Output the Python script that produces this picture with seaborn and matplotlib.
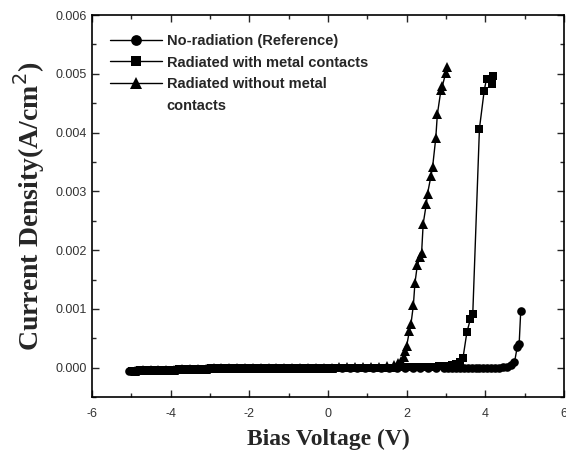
import matplotlib
matplotlib.use('Agg')
import matplotlib.pyplot as plt
from matplotlib.ticker import MultipleLocator, FormatStrFormatter
from matplotlib.lines import Line2D
import pandas as pd
import seaborn as sns

# bias voltage (V) and current density (mA/cm2)
ref_v = [-5.05, -4.85, -4.65, -4.45, -4.25, -4.05, -3.85, -3.65, -3.45, -3.25, -3.05, -2.85,
         -2.65, -2.45, -2.25, -2.05, -1.85, -1.65, -1.45, -1.25, -1.05, -0.85, -0.65, -0.45,
         -0.25, -0.05, 0.15, 0.35, 0.55, 0.75, 0.95, 1.15, 1.35, 1.55, 1.75, 1.95, 2.15, 2.35,
         2.55, 2.75, 2.95, 3.05, 3.15, 3.25, 3.35, 3.45, 3.55, 3.65, 3.75, 3.85, 3.95, 4.05,
         4.15, 4.25, 4.35, 4.45, 4.55,
         4.65, 4.74, 4.81, 4.86, 4.90]
ref_j = [-0.05, -0.04, -0.04, -0.03, -0.03, -0.03, -0.02, -0.02, -0.02, -0.02, -0.01, -0.01,
         -0.01, -0.01, -0.01, -0.01, -0.01,
         0.0, 0.0, 0.0, 0.0, 0.0, 0.0, 0.0, 0.0, 0.0, 0.0, 0.0, 0.0, 0.0, 0.0, 0.0, 0.0,
         0.0, 0.0, 0.0, 0.0, 0.0, 0.0, 0.0, 0.0, 0.0, 0.0, 0.0, 0.0, 0.0, 0.0, 0.0, 0.0,
         0.0, 0.0, 0.0, 0.0, 0.0, 0.0, 0.01, 0.02,
         0.04, 0.09, 0.35, 0.41, 0.97]

met_v = [-4.98, -4.78, -4.58, -4.38, -4.18, -3.98, -3.78, -3.58, -3.38, -3.18, -2.98, -2.78,
         -2.58, -2.38, -2.18, -1.98, -1.78, -1.58, -1.38, -1.18, -0.98, -0.78, -0.58, -0.38,
         -0.18, 0.02, 0.22, 0.42, 0.62, 0.82, 1.02, 1.22, 1.42, 1.62, 1.82, 2.02, 2.22, 2.42,
         2.62, 2.82, 3.02,
         3.15, 3.25, 3.35, 3.43, 3.53, 3.62, 3.68, 3.85, 3.97, 4.03, 4.18, 4.20]
met_j = [-0.05, -0.04, -0.04, -0.03, -0.03, -0.03, -0.02, -0.02, -0.02, -0.02, -0.01, -0.01,
         -0.01, -0.01, -0.01, -0.01, -0.01,
         0.0, 0.0, 0.0, 0.0, 0.0, 0.0, 0.0, 0.0, 0.0, 0.0, 0.0, 0.0, 0.0, 0.0, 0.0, 0.0, 0.0,
         0.01, 0.01, 0.01, 0.02, 0.02, 0.03, 0.03,
         0.05, 0.07, 0.10, 0.16, 0.60, 0.83, 0.91, 4.07, 4.71, 4.92, 4.82, 4.96]

nomet_v = [-4.91, -4.71, -4.51, -4.31, -4.11, -3.91, -3.71, -3.51, -3.31, -3.11, -2.91, -2.71,
           -2.51, -2.31, -2.11, -1.91, -1.71, -1.51, -1.31, -1.11, -0.91, -0.71, -0.51, -0.31,
           -0.11, 0.09, 0.29, 0.49, 0.69, 0.89, 1.09, 1.29, 1.49, 1.69,
           1.78, 1.85, 1.92, 1.96, 2.00, 2.07, 2.11, 2.17, 2.21, 2.27, 2.34, 2.38, 2.42, 2.50,
           2.53, 2.62, 2.66, 2.74, 2.78, 2.87, 2.91, 2.99, 3.02]
nomet_j = [-0.05, -0.04, -0.04, -0.03, -0.03, -0.03, -0.02, -0.02, -0.02, -0.02, -0.01, -0.01,
           -0.01, -0.01, -0.01, -0.01, -0.01,
           0.0, 0.0, 0.0, 0.0, 0.0, 0.0, 0.0, 0.0,
           0.0, 0.01, 0.01, 0.01, 0.01, 0.02, 0.02, 0.03, 0.05,
           0.08, 0.11, 0.18, 0.29, 0.37, 0.63, 0.75, 1.06, 1.44, 1.74, 1.88, 1.96, 2.45, 2.79,
           2.96, 3.27, 3.42, 3.91, 4.31, 4.72, 4.80, 5.01, 5.12]

labels = ['No-radiation (Reference)', 'Radiated with metal contacts',
          'Radiated without metal contacts']
markers = ['o', 's', '^']
marker_sizes = [6.2, 6, 7.2]

rows = []
for lab, vs, js in zip(labels, [ref_v, met_v, nomet_v], [ref_j, met_j, nomet_j]):
    for i in range(len(vs)):
        rows.append([vs[i], js[i] * 1e-3, lab])
df = pd.DataFrame(rows, columns=['V', 'J', 'Series'])

sns.set_style('ticks')
plt.rcParams['font.family'] = ['Liberation Sans', 'DejaVu Sans']
plt.rcParams['axes.unicode_minus'] = False

fig = plt.figure(figsize=(5.66, 4.57), dpi=100)
ax = fig.add_axes([0.1625, 0.131, 0.834, 0.836])
sns.lineplot(data=df, x='V', y='J', hue='Series', style='Series', hue_order=labels,
             style_order=labels, markers=markers, dashes=False,
             palette=['black'] * 3, sort=False, estimator=None, units='Series',
             markersize=6, markeredgewidth=0, linewidth=1.0, ax=ax, legend=False)
for ln, ms in zip(ax.lines[:3], marker_sizes):
    ln.set_markersize(ms)

ax.set_xlim(-6, 6)
ax.set_ylim(-0.0005, 0.006)
ax.xaxis.set_major_locator(MultipleLocator(2))
ax.xaxis.set_minor_locator(MultipleLocator(1))
ax.yaxis.set_major_locator(MultipleLocator(0.001))
ax.yaxis.set_minor_locator(MultipleLocator(0.0005))
ax.yaxis.set_major_formatter(FormatStrFormatter('%.3f'))
ax.tick_params(which='both', direction='in', top=True, right=True, width=1.0,
               labelsize=9, labelcolor='#333333')
ax.tick_params(which='major', length=5)
ax.tick_params(which='minor', length=3)
ax.tick_params(axis='x', pad=8)
for s in ax.spines.values():
    s.set_linewidth(1.2)
    s.set_color('black')

ax.set_xlabel('Bias Voltage (V)', family='Liberation Serif', fontweight='bold',
              fontsize=17, labelpad=6)
ax.set_ylabel('Current Density(A/cm$^2$)', family='Liberation Serif', fontweight='bold',
              fontsize=20, labelpad=6)

# legend: the third entry wraps onto a second line with the handle on the first line
handles = [Line2D([], [], color='black', lw=1.0, marker=m, markersize=ms * 1.25,
                  markeredgewidth=0) for m, ms in zip(markers, marker_sizes)]
handles.append(Line2D([], [], color='none'))
ax.legend(handles,
          ['No-radiation (Reference)', 'Radiated with metal contacts',
           'Radiated without metal', 'contacts'],
          loc='upper left', bbox_to_anchor=(0.01, 0.985), frameon=False,
          handlelength=3.6, handletextpad=0.3, labelspacing=0.52,
          prop={'family': 'Liberation Sans', 'weight': 'bold', 'size': 10.5})

plt.savefig('out.png', dpi=100)
